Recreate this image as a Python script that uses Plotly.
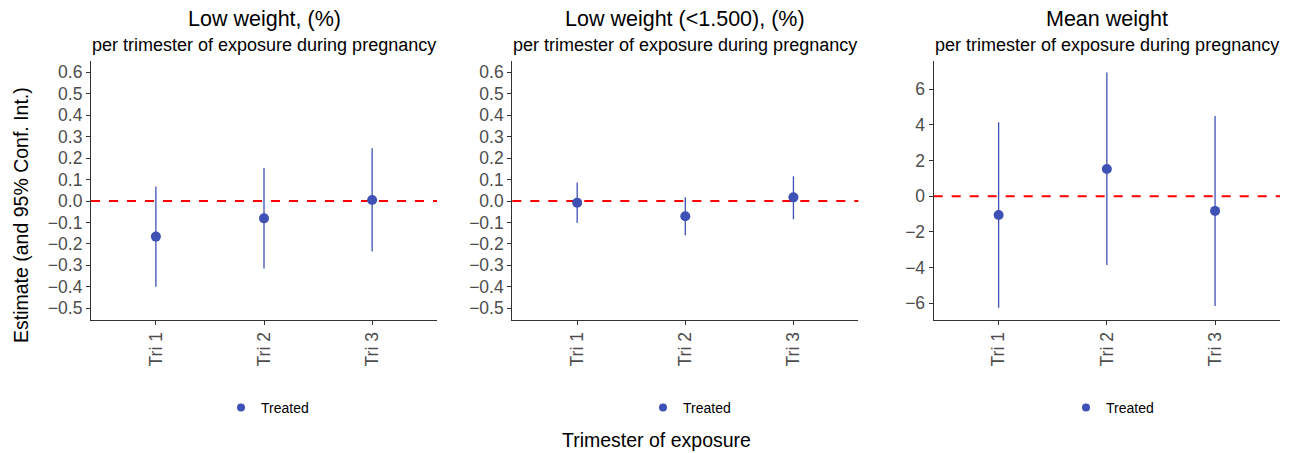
import plotly.graph_objects as go

categories = ["Tri 1", "Tri 2", "Tri 3"]

# Panel 1: Low weight, (%)
p1_est = [-0.166, -0.081, 0.005]
p1_low = [-0.400, -0.315, -0.235]
p1_high = [0.068, 0.154, 0.246]

# Panel 2: Low weight (<1.500), (%)
p2_est = [-0.008, -0.071, 0.017]
p2_low = [-0.103, -0.160, -0.085]
p2_high = [0.086, 0.017, 0.115]

# Panel 3: Mean weight
p3_est = [-1.05, 1.53, -0.82]
p3_low = [-6.25, -3.85, -6.15]
p3_high = [4.15, 6.95, 4.50]

titles = ["Low weight, (%)", "Low weight (<1.500), (%)", "Mean weight"]
subtitle = "per trimester of exposure during pregnancy"
series_name = "Treated"

ticks_pct = [-0.5, -0.4, -0.3, -0.2, -0.1, 0.0, 0.1, 0.2, 0.3, 0.4, 0.5, 0.6]
ticks_mean = [-6, -4, -2, 0, 2, 4, 6]

W, H = 1298, 453
POINT = "#3F51B5"
FONT = "Liberation Sans, Arial, sans-serif"

x_domains = [(91, 437), (512.3, 858.3), (933.7, 1280)]
y_top, y_bot = 61, 320
y_ranges = [(-0.555, 0.653), (-0.555, 0.653), (-6.94, 7.59)]
y_ticks = [ticks_pct, ticks_pct, ticks_mean]
data = [(p1_est, p1_low, p1_high), (p2_est, p2_low, p2_high), (p3_est, p3_low, p3_high)]
legend_x = [221, 643, 1066]

fig = go.Figure()
layout = {}
for i, (est, lo, hi) in enumerate(data):
    n = "" if i == 0 else str(i + 1)
    xa, ya = "x" + n, "y" + n
    leg = "legend" + n
    fig.add_trace(go.Scatter(
        x=categories, y=est, mode="markers", name=series_name,
        xaxis=xa, yaxis=ya, showlegend=False,
        marker=dict(color=POINT, size=10),
        error_y=dict(type="data", symmetric=False,
                     array=[h - e for h, e in zip(hi, est)],
                     arrayminus=[e - l for e, l in zip(est, lo)],
                     color=POINT, thickness=1.3, width=0),
    ))
    # legend entry (no data drawn)
    fig.add_trace(go.Scatter(
        x=[None], y=[None], mode="markers", name=series_name,
        xaxis=xa, yaxis=ya, legend=leg, showlegend=True,
        marker=dict(color=POINT, size=8),
    ))
    x0, x1 = x_domains[i]
    layout["xaxis" + n] = dict(
        domain=[x0 / W, x1 / W], anchor=ya, type="category",
        categoryorder="array", categoryarray=categories,
        range=[-0.6, 2.6], showline=True, linecolor="#333333", linewidth=1.2,
        ticks="outside", ticklen=4, tickcolor="#333333", tickangle=-90,
        tickfont=dict(family=FONT, size=17.5, color="#4d4d4d"),
        showgrid=False, zeroline=False, fixedrange=True,
    )
    layout["yaxis" + n] = dict(
        domain=[1 - y_bot / H, 1 - y_top / H], anchor=xa,
        range=list(y_ranges[i]), tickvals=y_ticks[i],
        tickformat=".1f" if i < 2 else "d",
        showline=True, linecolor="#333333", linewidth=1.2,
        ticks="outside", ticklen=4, tickcolor="#333333",
        tickfont=dict(family=FONT, size=17.5, color="#4d4d4d"),
        showgrid=False, zeroline=False, fixedrange=True,
    )
    layout[leg] = dict(
        x=legend_x[i] / W, y=1 - 408 / H, xanchor="left", yanchor="middle",
        orientation="h", font=dict(family=FONT, size=14, color="#000000"),
        bgcolor="rgba(0,0,0,0)", itemsizing="trace",
    )
    # reference line at zero
    fig.add_shape(type="line", xref=xa + " domain", yref=ya, x0=0, x1=1, y0=0, y1=0,
                  line=dict(color="#FF0000", width=2, dash="dash"), layer="below")
    cx = (x0 + x1) / 2 / W
    fig.add_annotation(text=titles[i], xref="paper", yref="paper", x=cx, y=1 - 19 / H,
                       showarrow=False, xanchor="center", yanchor="middle",
                       font=dict(family=FONT, size=21.5, color="#000000"))
    fig.add_annotation(text=subtitle, xref="paper", yref="paper", x=cx, y=1 - 45 / H,
                       showarrow=False, xanchor="center", yanchor="middle",
                       font=dict(family=FONT, size=18, color="#000000"))

fig.add_annotation(text="Estimate (and 95% Conf. Int.)", xref="paper", yref="paper",
                   x=21 / W, y=1 - 215 / H, textangle=-90, showarrow=False,
                   xanchor="center", yanchor="middle",
                   font=dict(family=FONT, size=19.5, color="#000000"))
fig.add_annotation(text="Trimester of exposure", xref="paper", yref="paper",
                   x=656 / W, y=1 - 440 / H, showarrow=False,
                   xanchor="center", yanchor="middle",
                   font=dict(family=FONT, size=19.5, color="#000000"))

fig.update_layout(
    width=W, height=H, margin=dict(l=0, r=0, t=0, b=0),
    plot_bgcolor="white", paper_bgcolor="white",
    font=dict(family=FONT), **layout,
)
fig.write_html("out.html")
